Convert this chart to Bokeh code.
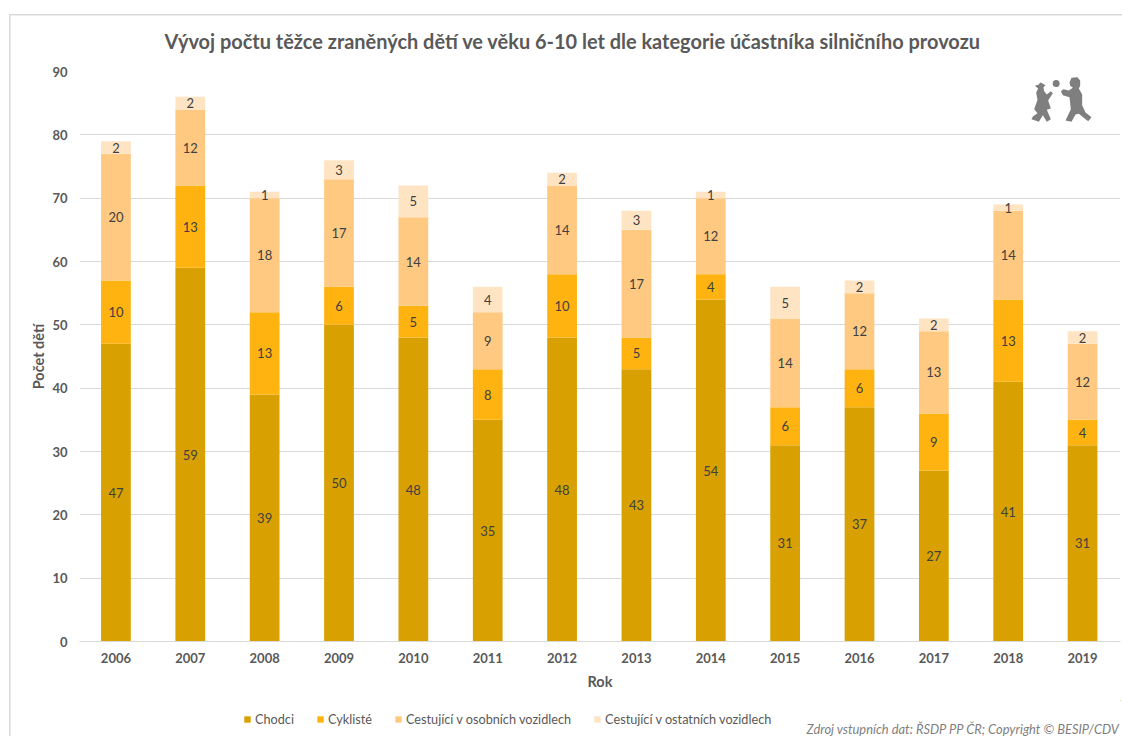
from bokeh.embed import file_html
from bokeh.layouts import column
from bokeh.resources import INLINE
from bokeh.plotting import figure
from bokeh.models import (ColumnDataSource, FixedTicker, Legend, LegendItem,
                          Range1d, LinearScale)
from bokeh.core.properties import value

FONT = "Lato"
TEXT_GREY = "#595959"
LABEL_GREY = "#404040"
RULE_GREY = "#d9d9d9"

years = [2006, 2007, 2008, 2009, 2010, 2011, 2012, 2013, 2014, 2015, 2016, 2017, 2018, 2019]
chodci = [47, 59, 39, 50, 48, 35, 48, 43, 54, 31, 37, 27, 41, 31]
cykliste = [10, 13, 13, 6, 5, 8, 10, 5, 4, 6, 6, 9, 13, 4]
osobni = [20, 12, 18, 17, 14, 9, 14, 17, 12, 14, 12, 13, 14, 12]
ostatni = [2, 2, 1, 3, 5, 4, 2, 3, 1, 5, 2, 2, 1, 2]

series_names = ["Chodci", "Cyklisté", "Cestující v osobních vozidlech", "Cestující v ostatních vozidlech"]
series_keys = ["chodci", "cykliste", "osobni", "ostatni"]
series_values = [chodci, cykliste, osobni, ostatni]
series_colors = ["#d8a000", "#ffb310", "#ffc982", "#ffe4c4"]
y_ticks = [0, 10, 20, 30, 40, 50, 60, 70, 80, 90]
source_note = "Zdroj vstupních dat: ŘSDP PP ČR; Copyright © BESIP/CDV"

# Page geometry of the plotting frame, in pixels from the top left corner
FRAME_L, FRAME_R, FRAME_T, FRAME_B = 79, 1120, 71, 641
PAGE_W, PAGE_H = 1122, 736
STRIP_H = 36

p = figure(width=PAGE_W, height=PAGE_H - STRIP_H, output_backend="svg", toolbar_location=None,
           x_range=Range1d(2005.51, 2019.51), y_range=Range1d(0, 90),
           min_border_left=FRAME_L, min_border_right=PAGE_W - FRAME_R,
           min_border_top=FRAME_T, min_border_bottom=PAGE_H - STRIP_H - FRAME_B,
           extra_x_ranges={"page": Range1d(FRAME_L, FRAME_R)},
           extra_y_ranges={"page": Range1d(FRAME_B, FRAME_T)},
           extra_x_scales={"page": LinearScale()},
           extra_y_scales={"page": LinearScale()},
           title="Vývoj počtu těžce zraněných dětí ve věku 6-10 let dle kategorie účastníka silničního provozu")
p.outline_line_color = None
p.background_fill_color = None
p.border_fill_color = None

p.title.align = "left"
p.title.text_font = FONT
p.title.text_font_size = "19.95px"
p.title.text_font_style = "bold"
p.title.text_color = TEXT_GREY
p.title.offset = 85
p.title.standoff = 38

# Axes and grid
p.xgrid.grid_line_color = None
p.ygrid.grid_line_color = RULE_GREY
p.ygrid.ticker = FixedTicker(ticks=y_ticks)
for ax in (p.xaxis[0], p.yaxis[0]):
    ax.major_tick_line_color = None
    ax.minor_tick_line_color = None
    ax.major_label_text_font = FONT
    ax.major_label_text_font_size = "13px"
    ax.major_label_text_font_style = "bold"
    ax.major_label_text_color = TEXT_GREY
    ax.axis_label_text_font = FONT
    ax.axis_label_text_font_size = "14.5px"
    ax.axis_label_text_font_style = "bold"
    ax.axis_label_text_color = TEXT_GREY
p.xaxis[0].ticker = FixedTicker(ticks=years)
p.xaxis[0].axis_line_color = RULE_GREY
p.xaxis[0].axis_label = "Rok"
p.xaxis[0].major_label_standoff = 5
p.xaxis[0].axis_label_standoff = 7
p.yaxis[0].ticker = FixedTicker(ticks=y_ticks)
p.yaxis[0].axis_line_color = None
p.yaxis[0].axis_label = "Počet dětí"
p.yaxis[0].major_label_standoff = 6
p.yaxis[0].axis_label_standoff = 2

# Stacked columns
data = {"year": years}
data.update(dict(zip(series_keys, series_values)))
source = ColumnDataSource(data)
p.vbar_stack(series_keys, x="year", width=0.4, color=series_colors, source=source, line_width=0)

# Value labels centred inside each segment
base = [0] * len(years)
for vals in series_values:
    mids = [b + v / 2 for b, v in zip(base, vals)]
    base = [b + v for b, v in zip(base, vals)]
    p.text(x=years, y=mids, text=[str(v) for v in vals], text_font=value(FONT),
           text_font_size="13px", text_color=LABEL_GREY, text_align="center",
           text_baseline="middle")

# Children with a ball, outlined in page pixels
ICON_X, ICON_Y, ICON_ZOOM = 1025, 70, 3
def icon_xy(points):
    return ([ICON_X + a / ICON_ZOOM for a, _ in points], [ICON_Y + b / ICON_ZOOM for _, b in points])

girl = [(28, 46), (40, 42), (44, 36), (50, 38), (60, 44), (54, 50), (56, 62), (64, 72), (76, 62), (82, 68),
        (68, 90), (76, 114), (64, 118), (76, 146), (64, 154), (52, 134), (40, 154), (18, 146), (22, 138),
        (36, 128), (26, 116), (36, 88), (32, 66), (38, 54)]
boy = [(132, 36), (138, 22), (156, 20), (164, 30), (164, 46), (160, 54), (170, 72), (170, 104), (180, 126),
       (198, 140), (188, 152), (160, 130), (150, 132), (138, 154), (120, 150), (136, 116), (132, 80),
       (112, 74), (106, 62), (114, 56), (130, 60), (142, 52), (134, 46)]
for outline in (girl, boy):
    xs, ys = icon_xy(outline)
    p.patch(xs, ys, x_range_name="page", y_range_name="page", color="#7f7f7f", line_width=0)
bx, by = icon_xy([(92, 39)])
p.circle(bx, by, radius=3.5, radius_units="screen", x_range_name="page", y_range_name="page",
         color="#7f7f7f", line_width=0)

# Strip under the chart for the legend and source note; its frame lines up with the chart's
strip = figure(width=PAGE_W, height=STRIP_H, output_backend="svg", toolbar_location=None,
               x_range=Range1d(FRAME_L, FRAME_R), y_range=Range1d(PAGE_H, PAGE_H - STRIP_H),
               x_axis_location=None, y_axis_location=None,
               min_border_left=FRAME_L, min_border_right=PAGE_W - FRAME_R, min_border_top=0, min_border_bottom=0)
strip.outline_line_color = None
strip.background_fill_color = None
strip.border_fill_color = None
strip.grid.visible = False

# The series columns fall outside this strip's ranges, so only their legend swatches show
swatches = [strip.vbar(x="year", top=key, bottom=0, width=0.4, color=c, line_width=0, source=source)
            for key, c in zip(series_keys, series_colors)]
legend = Legend(items=[LegendItem(label=n, renderers=[r], index=0) for n, r in zip(series_names, swatches)],
                orientation="horizontal", location=(164, 9), glyph_width=8, glyph_height=8,
                label_standoff=4, spacing=22, padding=0, margin=0, background_fill_alpha=0,
                border_line_color=None, label_text_font=FONT, label_text_font_size="12.7px",
                label_text_color=TEXT_GREY)
strip.add_layout(legend, "center")
strip.text(x=[806], y=[728], text=[source_note], text_font=value(FONT), text_font_size="12.9px",
           text_font_style="italic", text_color="#7f7f7f", text_baseline="middle")

# The chart's thin border runs along the top and left of the page column
border_css = {
    "background-image": f"linear-gradient({RULE_GREY},{RULE_GREY}),linear-gradient({RULE_GREY},{RULE_GREY})",
    "background-size": "100% 1.5px,1.5px 100%",
    "background-position": "9px 14px,9px 14px",
    "background-repeat": "no-repeat",
}
page = column(p, strip, spacing=0, width=PAGE_W, height=PAGE_H, styles=border_css)

open("out.html", "w").write(file_html(page, INLINE))
